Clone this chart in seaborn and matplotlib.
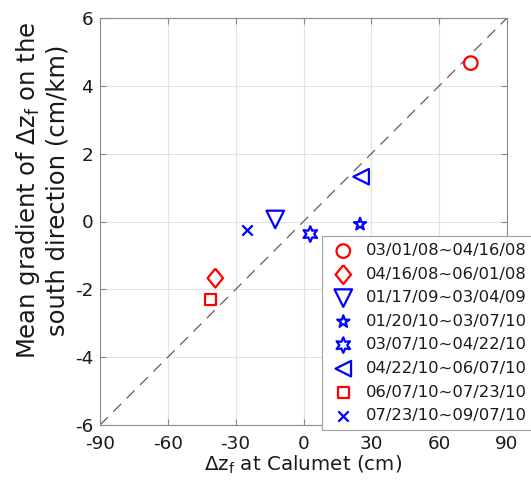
import numpy as np
import pandas as pd
import matplotlib
matplotlib.use("Agg")
import matplotlib.pyplot as plt
import seaborn as sns

# Periods and values
periods = [
    "03/01/08~04/16/08",
    "04/16/08~06/01/08",
    "01/17/09~03/04/09",
    "01/20/10~03/07/10",
    "03/07/10~04/22/10",
    "04/22/10~06/07/10",
    "06/07/10~07/23/10",
    "07/23/10~09/07/10",
]
dz_calumet = [74.0, -39.0, -12.5, 25.0, 3.0, 25.5, -41.0, -25.0]
mean_gradient = [4.67, -1.67, 0.06, -0.08, -0.37, 1.32, -2.29, -0.25]

# 1:15 reference line (cm vs cm/km)
ref_x = [-90, 90]
ref_y = [-6, 6]

x_ticks = [-90, -60, -30, 0, 30, 60, 90]
y_ticks = [-6, -4, -2, 0, 2, 4, 6]

RED = (1, 0, 0)
BLUE = (0, 0, 1)
diamond = [(0, 1), (0.82, 0), (0, -1), (-0.82, 0), (0, 1)]
styles = [
    ("o", RED, 95),
    (diamond, RED, 185),
    ("v", BLUE, 160),
    ("*", BLUE, 85),
    ((6, 1, 0), BLUE, 125),
    ("<", BLUE, 125),
    ("s", RED, 62),
    ("x", BLUE, 55),
]

sns.set_theme(style="whitegrid")
plt.rcParams["font.family"] = ["DejaVu Sans"]
plt.rcParams["mathtext.fontset"] = "dejavusans"
plt.rcParams["axes.unicode_minus"] = False

df = pd.DataFrame({"period": periods, "dz": dz_calumet, "grad": mean_gradient})

fig = plt.figure(figsize=(5.31, 4.88), dpi=100)
ax = fig.add_axes([100 / 531, 1 - 425 / 488, 407 / 531, 407 / 488])

sns.lineplot(x=ref_x, y=ref_y, ax=ax, color="#4d4d4d", lw=0.8,
             linestyle=(0, (10, 7)), zorder=2)

for (marker, color, size), (_, row) in zip(styles, df.iterrows()):
    sub = df[df["period"] == row["period"]]
    kw = dict(facecolor="none", edgecolor=color) if marker != "x" else dict(color=color)
    sns.scatterplot(data=sub, x="dz", y="grad", ax=ax, marker=marker, s=size,
                    linewidth=1.6, label=row["period"], zorder=3, **kw)

ax.set_xlim(-90, 90)
ax.set_ylim(-6, 6)
ax.set_xticks(x_ticks)
ax.set_yticks(y_ticks)
ax.grid(True, color="#e3e3e3", lw=0.8)
for sp in ax.spines.values():
    sp.set_color("#8a8a8a")
    sp.set_linewidth(0.8)
ax.tick_params(axis="both", which="both", direction="in", length=4, width=0.8,
               color="#8a8a8a", labelsize=13.2, labelcolor="#1a1a1a",
               top=True, right=True, bottom=True, left=True)
ax.tick_params(axis="x", pad=7)
ax.tick_params(axis="y", pad=5)

ax.set_xlabel(r"$\mathrm{\Delta z_f}$ at Calumet (cm)", fontsize=14.3,
              color="#1a1a1a", labelpad=1)
ax.set_ylabel("")
fig.text(42 / 531, 1 - 190 / 488,
         "Mean gradient of $\\mathrm{\\Delta z_f}$ on the\nsouth direction (cm/km)",
         rotation=90, ha="center", va="center", fontsize=17.5, color="#1a1a1a",
         linespacing=1.2)

leg = ax.legend(loc="upper left", bbox_to_anchor=(322 / 531, 1 - 236 / 488),
                bbox_transform=fig.transFigure, borderaxespad=0, fontsize=11.8,
                frameon=True, fancybox=False, framealpha=1, edgecolor="#a0a0a0",
                handlelength=1.7, handletextpad=0.5, labelspacing=0.52,
                borderpad=0.45)
leg.get_frame().set_linewidth(0.8)
for t in leg.get_texts():
    t.set_color("#1a1a1a")

fig.savefig("out.png", dpi=100)
